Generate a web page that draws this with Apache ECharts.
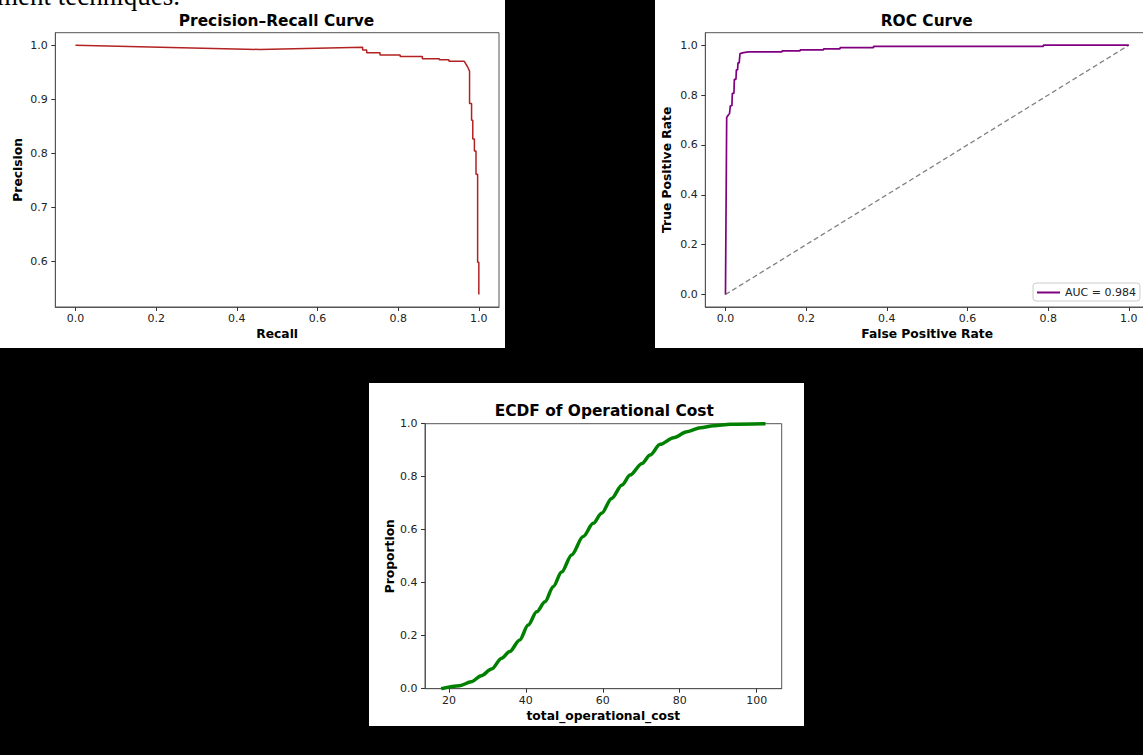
<!DOCTYPE html>
<html><head><meta charset="utf-8">
<script src="https://cdn.jsdelivr.net/npm/echarts@6/dist/echarts.min.js"></script>
<style>html,body{margin:0;padding:0;background:#000;overflow:hidden}#c{width:1143px;height:755px;overflow:hidden}</style>
</head><body><div id="c"></div>
<script>
// ---------- data ----------
const prRecall    = [0.0, 0.457, 0.712, 0.712, 0.722, 0.722, 0.755, 0.755, 0.805, 0.805, 0.860, 0.860, 0.902, 0.902, 0.926, 0.926, 0.964, 0.972, 0.977, 0.977, 0.982, 0.982, 0.985, 0.985, 0.989, 0.989, 0.993, 0.993, 0.997, 0.997, 1.0, 1.0];
const prPrecision = [1.0, 0.992, 0.996, 0.991, 0.991, 0.986, 0.986, 0.982, 0.982, 0.979, 0.979, 0.975, 0.975, 0.973, 0.973, 0.970, 0.970, 0.960, 0.952, 0.892, 0.892, 0.861, 0.861, 0.826, 0.826, 0.804, 0.804, 0.761, 0.761, 0.598, 0.598, 0.538];

const rocFpr = [0, 0.003, 0.007, 0.010, 0.012, 0.016, 0.017, 0.021, 0.022, 0.026, 0.027, 0.030, 0.031, 0.034, 0.036, 0.045, 0.057, 0.140, 0.140, 0.185, 0.185, 0.243, 0.243, 0.284, 0.284, 0.367, 0.367, 0.788, 0.788, 1.0];
const rocTpr = [0, 0.710, 0.720, 0.725, 0.757, 0.757, 0.807, 0.807, 0.863, 0.863, 0.901, 0.901, 0.929, 0.929, 0.966, 0.970, 0.973, 0.973, 0.977, 0.977, 0.981, 0.981, 0.985, 0.985, 0.990, 0.990, 0.995, 0.995, 1.0, 1.0];
const chanceLine = [0, 1];
const aucLabel = 'AUC = 0.984';

const ecdfCost       = [18.0, 22.8, 25.8, 28.4, 31.1, 33.7, 35.8, 38.4, 40.6, 42.8, 45.0, 47.1, 49.3, 51.9, 54.9, 57.5, 59.7, 62.3, 65.0, 67.1, 70.2, 72.3, 74.9, 78.4, 81.9, 85.4, 88.8, 93.2, 102.3];
const ecdfProportion = [0.0, 0.011, 0.026, 0.049, 0.074, 0.115, 0.140, 0.184, 0.240, 0.290, 0.328, 0.385, 0.440, 0.505, 0.574, 0.624, 0.662, 0.718, 0.769, 0.806, 0.850, 0.882, 0.922, 0.947, 0.970, 0.985, 0.992, 0.998, 1.0];

const prXTicks   = [0.0, 0.2, 0.4, 0.6, 0.8, 1.0];
const prYTicks   = [0.6, 0.7, 0.8, 0.9, 1.0];
const rocTicks   = [0.0, 0.2, 0.4, 0.6, 0.8, 1.0];
const ecdfXTicks = [20, 40, 60, 80, 100];
const ecdfYTicks = [0.0, 0.2, 0.4, 0.6, 0.8, 1.0];

const titles = ['Precision–Recall Curve', 'ROC Curve', 'ECDF of Operational Cost'];
const captionText = 'ment techniques.';

// ---------- helpers ----------
function zip(a, b) { return a.map((v, i) => [v, b[i]]); }
function padded(arr) {
  const lo = Math.min(...arr), hi = Math.max(...arr), m = (hi - lo) * 0.05;
  return [lo - m, hi + m];
}
const FONT = 'DejaVu Sans';
const AXC = '#555';
const LBL = '#222';

function axis(kind, gridIndex, range, ticks, decimals, name, nameGap) {
  return {
    type: 'value', gridIndex: gridIndex,
    min: range[0], max: range[1],
    name: name, nameLocation: 'middle', nameGap: nameGap,
    nameTextStyle: { fontFamily: FONT, fontSize: 12.3, fontWeight: 'bold', color: '#000' },
    axisLine: { show: true, onZero: false, lineStyle: { color: AXC, width: 1 } },
    axisTick: { show: true, inside: false, length: 4, customValues: ticks, lineStyle: { color: '#333', width: 1 } },
    axisLabel: { show: true, customValues: ticks, margin: kind === 'x' ? 6 : 7.5,
      fontFamily: FONT, fontSize: 11, color: LBL,
      formatter: v => Number(v).toFixed(decimals) },
    splitLine: { show: false },
    minorTick: { show: false }
  };
}

const prX = padded(prRecall), prY = padded(prPrecision);
const rocX = padded(rocFpr.concat(chanceLine)), rocY = padded(rocTpr.concat(chanceLine));
const ecX = padded(ecdfCost), ecY = [0, 1];

const titleStyle = { fontFamily: FONT, fontSize: 15.4, fontWeight: 'bold', color: '#000' };

const chart = echarts.init(document.getElementById('c'), null, { renderer: 'svg', width: 1143, height: 755 });
chart.setOption({
  animation: false,
  backgroundColor: '#000',
  title: [
    { text: titles[0], left: 276.5, top: 13, textAlign: 'center', padding: 0, textStyle: titleStyle },
    { text: titles[1], left: 926.7, top: 13, textAlign: 'center', padding: 0, textStyle: titleStyle },
    { text: titles[2], left: 604.3, top: 403.5, textAlign: 'center', padding: 0, textStyle: titleStyle }
  ],
  graphic: [
    { type: 'rect', silent: true, z: -100, shape: { x: 0, y: 0, width: 505, height: 348 }, style: { fill: '#fff' } },
    { type: 'rect', silent: true, z: -100, shape: { x: 655, y: 0, width: 488, height: 348 }, style: { fill: '#fff' } },
    { type: 'rect', silent: true, z: -100, shape: { x: 369, y: 383, width: 435, height: 343 }, style: { fill: '#fff' } },
    { type: 'text', silent: true, z: 100, x: -3, y: -3.6,
      style: { text: captionText, font: '27px "Liberation Serif"', fill: '#000', align: 'left', verticalAlign: 'middle' } }
  ],
  grid: [
    { left: 55.3, top: 32.7, width: 443.7, height: 274.3, show: true, borderColor: AXC, borderWidth: 1, backgroundColor: 'transparent', outerBoundsMode: 'none', containLabel: false },
    { left: 705.3, top: 32.7, width: 443.7, height: 274.3, show: true, borderColor: AXC, borderWidth: 1, backgroundColor: 'transparent', outerBoundsMode: 'none', containLabel: false },
    { left: 425, top: 423.7, width: 356.7, height: 265, show: true, borderColor: AXC, borderWidth: 1, backgroundColor: 'transparent', outerBoundsMode: 'none', containLabel: false }
  ],
  xAxis: [
    axis('x', 0, prX, prXTicks, 1, 'Recall', 21),
    axis('x', 1, rocX, rocTicks, 1, 'False Positive Rate', 21),
    axis('x', 2, ecX, ecdfXTicks, 0, 'total_operational_cost', 21)
  ],
  yAxis: [
    axis('y', 0, prY, prYTicks, 1, 'Precision', 31),
    axis('y', 1, rocY, rocTicks, 1, 'True Positive Rate', 32),
    axis('y', 2, ecY, ecdfYTicks, 1, 'Proportion', 29)
  ],
  legend: {
    data: [aucLabel], left: 1033, top: 283, orient: 'horizontal',
    icon: 'rect', itemWidth: 23, itemHeight: 2,
    padding: [4, 4, 3, 4], backgroundColor: '#fff', borderColor: '#ccc', borderWidth: 1, borderRadius: 3,
    textStyle: { fontFamily: FONT, fontSize: 11, color: LBL }, selectedMode: false
  },
  series: [
    { type: 'line', name: 'Precision-Recall', xAxisIndex: 0, yAxisIndex: 0, data: zip(prRecall, prPrecision),
      symbol: 'none', lineStyle: { color: '#b22222', width: 1.5 }, itemStyle: { color: '#b22222' } },
    { type: 'line', name: 'chance', xAxisIndex: 1, yAxisIndex: 1, data: zip(chanceLine, chanceLine),
      symbol: 'none', lineStyle: { color: '#808080', width: 1.3, type: [5, 3] }, itemStyle: { color: '#808080' } },
    { type: 'line', name: aucLabel, xAxisIndex: 1, yAxisIndex: 1, data: zip(rocFpr, rocTpr),
      symbol: 'none', lineStyle: { color: '#800080', width: 1.7 }, itemStyle: { color: '#800080' } },
    { type: 'line', name: 'ECDF', xAxisIndex: 2, yAxisIndex: 2, data: zip(ecdfCost, ecdfProportion),
      symbol: 'none', smooth: 0.3, smoothMonotone: 'x', lineStyle: { color: '#008000', width: 3.5 }, itemStyle: { color: '#008000' } }
  ]
});
</script></body></html>
